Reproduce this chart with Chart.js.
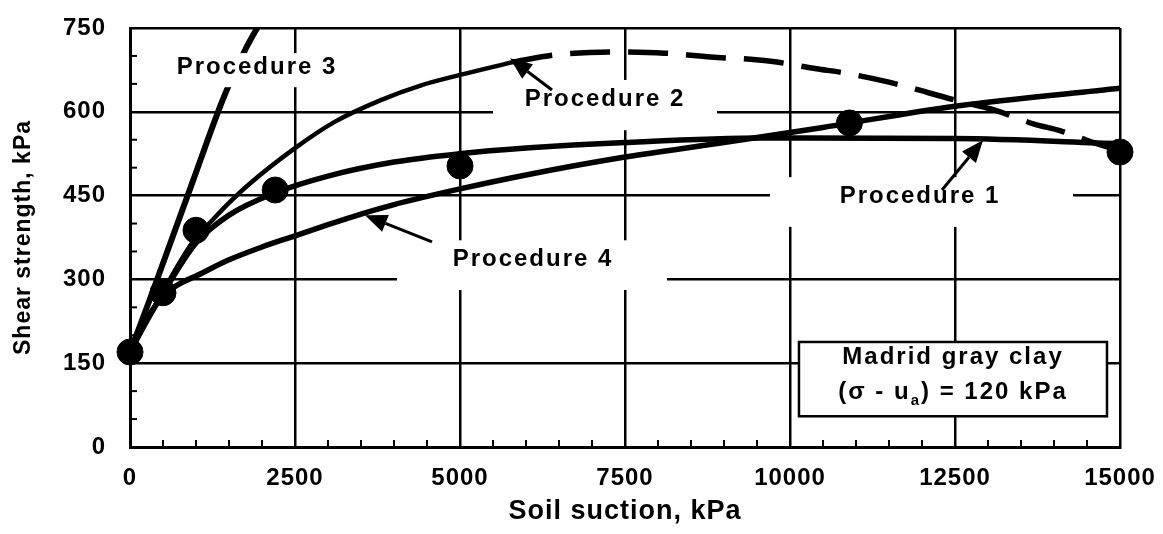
<!DOCTYPE html>
<html><head><meta charset="utf-8">
<script src="https://cdn.jsdelivr.net/npm/chart.js@4/dist/chart.umd.min.js"></script>
<style>html,body{margin:0;padding:0;background:#fff;}#wrap{width:1163px;height:534px;position:relative;}canvas{display:block;}</style>
</head><body><div id="wrap"><canvas id="c" width="1163" height="534" style="width:1163px;height:534px"></canvas></div>
<script>
// ---- data ----
const xTickValues = [0, 2500, 5000, 7500, 10000, 12500, 15000];
const yTickValues = [0, 150, 300, 450, 600, 750];
const measuredSuction  = [0, 500, 1000, 2200, 5000, 10900, 15000];
const measuredStrength = [170, 276, 388, 460, 503, 580, 528];
const p1Suction  = [0, 250, 500, 1000, 1500, 2200, 3000, 4000, 5000, 6000, 7500, 9600, 12500, 15000];
const p1Strength = [170, 225, 275, 365, 415, 455, 485, 510, 525, 535, 545, 553, 552, 543];
const p2Suction  = [0, 250, 500, 750, 1000, 1200, 1500, 1800, 2500, 3100, 3800, 4400, 5000, 5800];
const p2Strength = [170, 225, 278, 330, 375, 400, 437, 470, 535, 582, 621, 647, 666, 689];
const p2bSuction  = [5800, 6450, 7300, 8100, 8800, 9400, 9800, 10400, 10800, 11500, 12500, 13100, 13700, 14100, 14500, 15000];
const p2bStrength = [689, 702, 707, 705, 698, 694, 689, 677, 670, 653, 621, 603, 578, 566, 549, 530];
const p3Suction  = [0, 300, 950, 1400, 1750, 2000];
const p3Strength = [170, 264, 475, 620, 712, 765];
const p4Suction  = [0, 250, 500, 750, 1000, 1500, 2000, 2500, 3000, 3500, 4000, 5000, 6000, 7500, 9000, 10500, 12500, 15000];
const p4Strength = [170, 228, 270, 292, 306, 335, 358, 378, 398, 417, 434, 462, 487, 519, 545, 572, 610, 642];

// ---- annotations (in data units) ----
const labelTexts   = ['Procedure 3', 'Procedure 2', 'Procedure 1', 'Procedure 4'];
const labelAnchors = [[1909, 680], [7182, 623], [11955, 449], [6091, 336]];
const labelBoxes   = [[530, 3258, 644, 705], [5500, 8894, 567, 657], [9697, 14288, 394, 483], [4045, 8136, 281, 370]];
const arrowLines   = [[[6394, 639], [5758, 696]], [[12303, 460], [12924, 549]], [[4576, 367], [3561, 415]]];
const noteBox      = [10136, 14803, 55, 188];
const noteLine1    = 'Madrid gray clay';
const noteLine2    = ['(σ - u', 'a', ') = 120 kPa'];
const noteAnchors  = [[12470, 160], [12470, 97]];

const zip = (xs, ys) => xs.map((v, i) => ({x: v, y: ys[i]}));
const FONT = '"Liberation Sans", Arial, sans-serif';

const annot = {
  id: 'annot',
  beforeDraw(chart) { chart.ctx.letterSpacing = '1px'; },
  afterDatasetsDraw(chart) {
    const {ctx, scales: {x, y}} = chart;
    const X = v => x.getPixelForValue(v), Y = v => y.getPixelForValue(v);
    ctx.save();
    ctx.strokeStyle = '#000'; ctx.lineWidth = 2;
    for (let v = 500; v < 15000; v += 500) {
      if (v % 2500 === 0) continue;
      ctx.beginPath(); ctx.moveTo(X(v), y.bottom); ctx.lineTo(X(v), y.bottom - 7); ctx.stroke();
    }
    for (let v = 50; v < 750; v += 50) {
      if (v % 150 === 0) continue;
      ctx.beginPath(); ctx.moveTo(x.left, Y(v)); ctx.lineTo(x.left + 7, Y(v)); ctx.stroke();
    }
    ctx.fillStyle = '#fff';
    labelBoxes.forEach(b => ctx.fillRect(X(b[0]), Y(b[3]), X(b[1]) - X(b[0]), Y(b[2]) - Y(b[3])));
    ctx.fillStyle = '#000';
    ctx.font = 'bold 24px ' + FONT;
    ctx.letterSpacing = '2px';
    ctx.textAlign = 'center'; ctx.textBaseline = 'middle';
    labelTexts.forEach((t, i) => ctx.fillText(t, X(labelAnchors[i][0]) + 1, Y(labelAnchors[i][1])));
    ctx.lineWidth = 3;
    arrowLines.forEach(([a, b]) => {
      const x0 = X(a[0]), y0 = Y(a[1]), x1 = X(b[0]), y1 = Y(b[1]);
      const ang = Math.atan2(y1 - y0, x1 - x0);
      const L = 22, W = 9;
      const bx = x1 - L * Math.cos(ang), by = y1 - L * Math.sin(ang);
      ctx.beginPath(); ctx.moveTo(x0, y0); ctx.lineTo(bx, by); ctx.stroke();
      ctx.beginPath();
      ctx.moveTo(x1, y1);
      ctx.lineTo(bx + W * Math.sin(ang), by - W * Math.cos(ang));
      ctx.lineTo(bx - W * Math.sin(ang), by + W * Math.cos(ang));
      ctx.closePath(); ctx.fill();
    });
    const nx0 = X(noteBox[0]), nx1 = X(noteBox[1]), ny0 = Y(noteBox[3]), ny1 = Y(noteBox[2]);
    ctx.fillStyle = '#fff'; ctx.fillRect(nx0, ny0, nx1 - nx0, ny1 - ny0);
    ctx.strokeStyle = '#000'; ctx.lineWidth = 2.5; ctx.strokeRect(nx0, ny0, nx1 - nx0, ny1 - ny0);
    ctx.fillStyle = '#000';
    ctx.fillText(noteLine1, X(noteAnchors[0][0]), Y(noteAnchors[0][1]));
    ctx.textAlign = 'left';
    const big = 'bold 24px ' + FONT, small = 'bold 15px ' + FONT;
    ctx.font = big; const w1 = ctx.measureText(noteLine2[0]).width, w3 = ctx.measureText(noteLine2[2]).width;
    ctx.font = small; const w2 = ctx.measureText(noteLine2[1]).width;
    let sx = X(noteAnchors[1][0]) - (w1 + w2 + w3) / 2;
    const sy = Y(noteAnchors[1][1]);
    ctx.font = big; ctx.fillText(noteLine2[0], sx, sy); sx += w1;
    ctx.font = small; ctx.fillText(noteLine2[1], sx, sy + 8); sx += w2;
    ctx.font = big; ctx.fillText(noteLine2[2], sx, sy);
    ctx.restore();
  }
};

const tickFont = {family: FONT, size: 24, weight: 'bold'};
new Chart(document.getElementById('c'), {
  type: 'scatter',
  data: {
    datasets: [
      {label: 'Procedure 3', type: 'line', data: zip(p3Suction, p3Strength), borderColor: '#000', borderWidth: 6, pointRadius: 0, tension: 0.3, clip: 0, order: 2},
      {label: 'Procedure 4', type: 'line', data: zip(p4Suction, p4Strength), borderColor: '#000', borderWidth: 5.5, pointRadius: 0, cubicInterpolationMode: 'monotone', order: 2},
      {label: 'Procedure 1', type: 'line', data: zip(p1Suction, p1Strength), borderColor: '#000', borderWidth: 5.5, pointRadius: 0, cubicInterpolationMode: 'monotone', order: 2},
      {label: 'Procedure 2', type: 'line', data: zip(p2Suction, p2Strength), borderColor: '#000', borderWidth: 4.5, pointRadius: 0, cubicInterpolationMode: 'monotone', order: 2},
      {label: 'Procedure 2 (dashed)', type: 'line', data: zip(p2bSuction, p2bStrength), borderColor: '#000', borderWidth: 5.5, borderDash: [40, 18], pointRadius: 0, cubicInterpolationMode: 'monotone', order: 2},
      {label: 'Measured', data: zip(measuredSuction, measuredStrength), backgroundColor: '#000', borderColor: '#000', pointRadius: 13, pointHoverRadius: 13, clip: false, order: 1}
    ]
  },
  options: {
    responsive: false, animation: false, events: [], devicePixelRatio: 1,
    layout: {padding: {left: 0, right: 43, top: 28, bottom: 0}},
    plugins: {legend: {display: false}, tooltip: {enabled: false}},
    scales: {
      x: {
        type: 'linear', min: 0, max: 15000,
        afterBuildTicks: s => { s.ticks = xTickValues.map(v => ({value: v})); },
        afterFit: s => { s.height = 87; s.paddingLeft = 0; s.paddingRight = 0; },
        grid: {color: '#000', lineWidth: 2.5, drawTicks: false},
        border: {color: '#000', width: 3},
        ticks: {color: '#000', font: tickFont, padding: 17, maxRotation: 0, autoSkip: false, callback: v => String(v)},
        title: {display: true, text: 'Soil suction, kPa', color: '#000', font: {family: FONT, size: 27, weight: 'bold'}, padding: {top: 0, bottom: 6}}
      },
      y: {
        type: 'linear', min: 0, max: 750,
        afterBuildTicks: s => { s.ticks = yTickValues.map(v => ({value: v})); },
        afterFit: s => { s.width = 130; s.paddingTop = 0; s.paddingBottom = 0; },
        grid: {color: '#000', lineWidth: 2.5, drawTicks: false},
        border: {color: '#000', width: 3},
        ticks: {color: '#000', font: tickFont, padding: 24, autoSkip: false, callback: v => String(v)},
        title: {display: true, text: 'Shear strength, kPa', color: '#000', font: {family: FONT, size: 23, weight: 'bold'}, padding: {top: 10, bottom: 0}}
      }
    }
  },
  plugins: [annot]
});
</script></body></html>
